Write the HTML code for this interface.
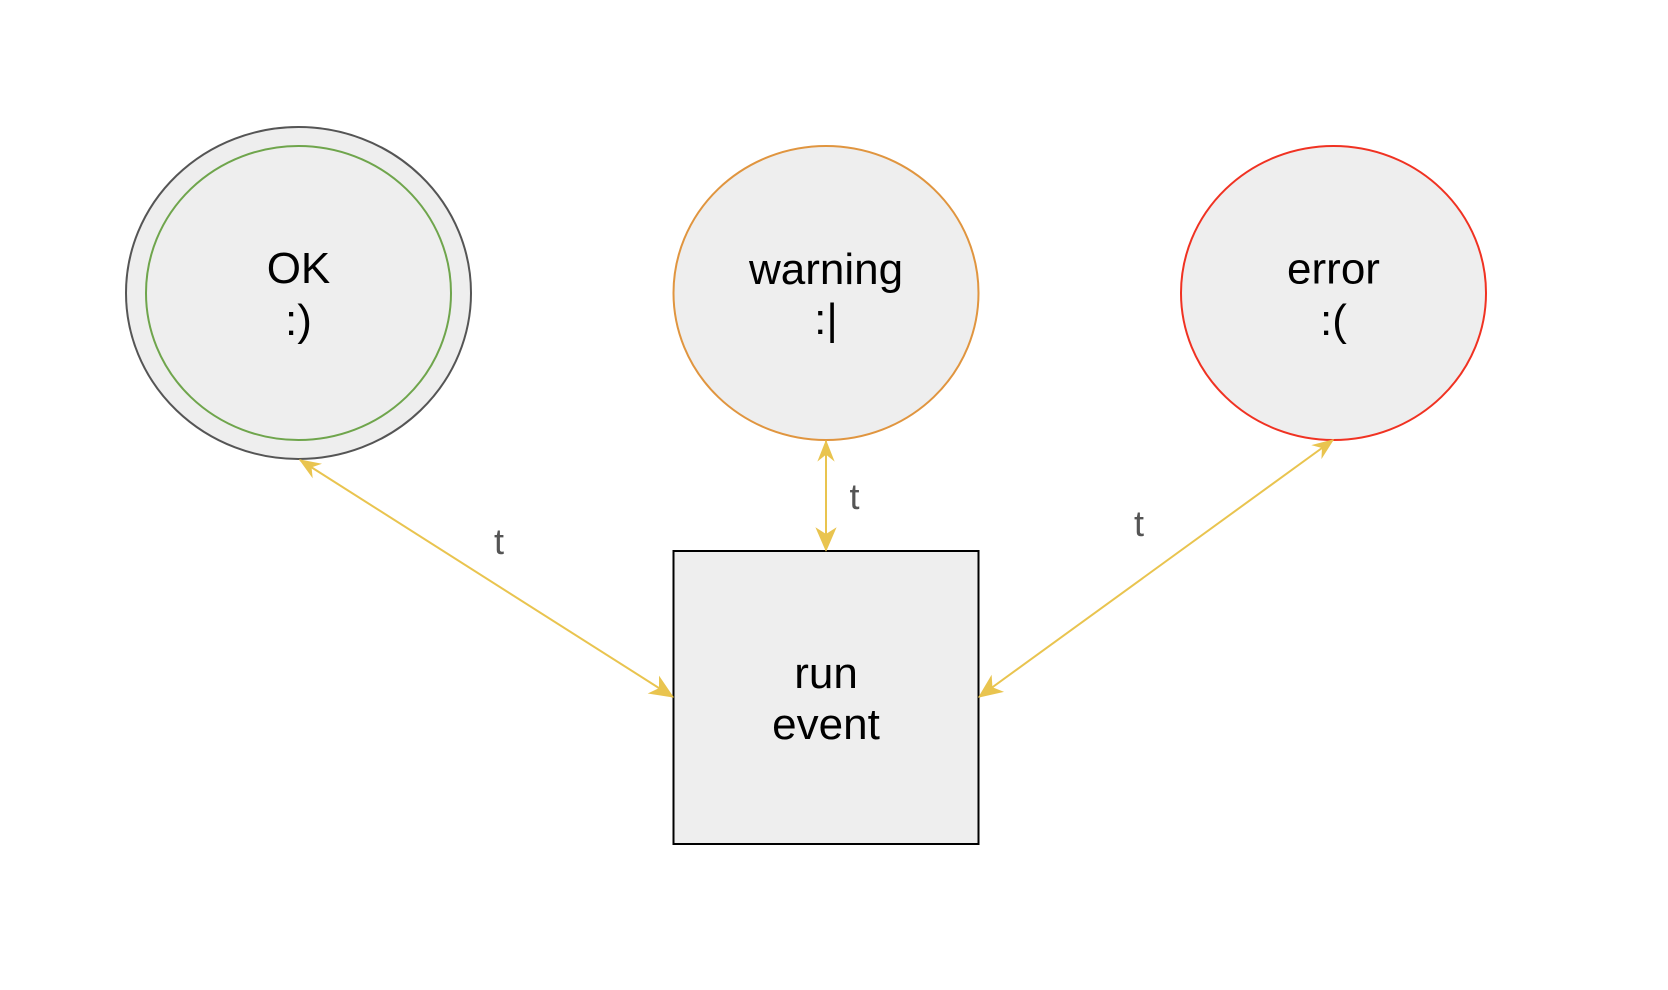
<!DOCTYPE html>
<html>
<head>
<meta charset="utf-8">
<style>
html,body{margin:0;padding:0;background:#fff;}
svg{display:block;}
text{font-family:"Liberation Sans",Arial,sans-serif;}
</style>
</head>
<body>
<svg width="1668" height="990" viewBox="0 0 1668 990" xmlns="http://www.w3.org/2000/svg">
<defs>
<marker id="endA" markerUnits="userSpaceOnUse" orient="auto" refX="0" refY="0" markerWidth="1" markerHeight="1" overflow="visible">
<path d="M0,0 L-22,-9.5 L-16,0 L-22,9.5 Z" fill="#E9C44F" stroke="#E9C44F" stroke-width="1" stroke-linejoin="miter"/>
</marker>
<marker id="startA" markerUnits="userSpaceOnUse" orient="auto-start-reverse" refX="0" refY="0" markerWidth="1" markerHeight="1" overflow="visible">
<path d="M0,0 L-19,-7.5 L-13,0 L-19,7.5 Z" fill="#E9C44F" stroke="#E9C44F" stroke-width="1" stroke-linejoin="miter"/>
</marker>
</defs>

<!-- OK double circle -->
<ellipse cx="298.5" cy="293" rx="172.5" ry="166" fill="#EEEEEE" stroke="#555555" stroke-width="2"/>
<ellipse cx="298.5" cy="293" rx="152.5" ry="147" fill="#EEEEEE" stroke="#6FA54C" stroke-width="2"/>
<text x="298.5" y="283" font-size="44" text-anchor="middle" fill="#000">OK</text>
<text x="298.5" y="335" font-size="44" text-anchor="middle" fill="#000">:)</text>

<!-- warning -->
<ellipse cx="826" cy="293" rx="152.5" ry="147" fill="#EEEEEE" stroke="#E0953F" stroke-width="2"/>
<text x="826" y="284" font-size="44" text-anchor="middle" fill="#000">warning</text>
<text x="826" y="334" font-size="44" text-anchor="middle" fill="#000">:|</text>

<!-- error -->
<ellipse cx="1333.5" cy="293" rx="152.5" ry="147" fill="#EEEEEE" stroke="#F03222" stroke-width="2"/>
<text x="1333.5" y="283.5" font-size="44" text-anchor="middle" fill="#000">error</text>
<text x="1333.5" y="335" font-size="44" text-anchor="middle" fill="#000">:(</text>

<!-- run event box -->
<rect x="673.5" y="551" width="305" height="293" fill="#EEEEEE" stroke="#000" stroke-width="2"/>
<text x="826" y="688" font-size="44" text-anchor="middle" fill="#000">run</text>
<text x="826" y="739" font-size="44" text-anchor="middle" fill="#000">event</text>

<!-- edges -->
<line x1="300" y1="460" x2="673" y2="697" stroke="#E9C44F" stroke-width="2" marker-start="url(#startA)" marker-end="url(#endA)"/>
<line x1="826" y1="441" x2="826" y2="550.5" stroke="#E9C44F" stroke-width="2" marker-start="url(#startA)" marker-end="url(#endA)"/>
<line x1="1333" y1="440" x2="979" y2="697" stroke="#E9C44F" stroke-width="2" marker-start="url(#startA)" marker-end="url(#endA)"/>

<!-- edge labels -->
<text x="499" y="554" font-size="36" text-anchor="middle" fill="#555555">t</text>
<text x="854.5" y="509" font-size="36" text-anchor="middle" fill="#555555">t</text>
<text x="1139" y="536" font-size="36" text-anchor="middle" fill="#555555">t</text>
</svg>
</body>
</html>
